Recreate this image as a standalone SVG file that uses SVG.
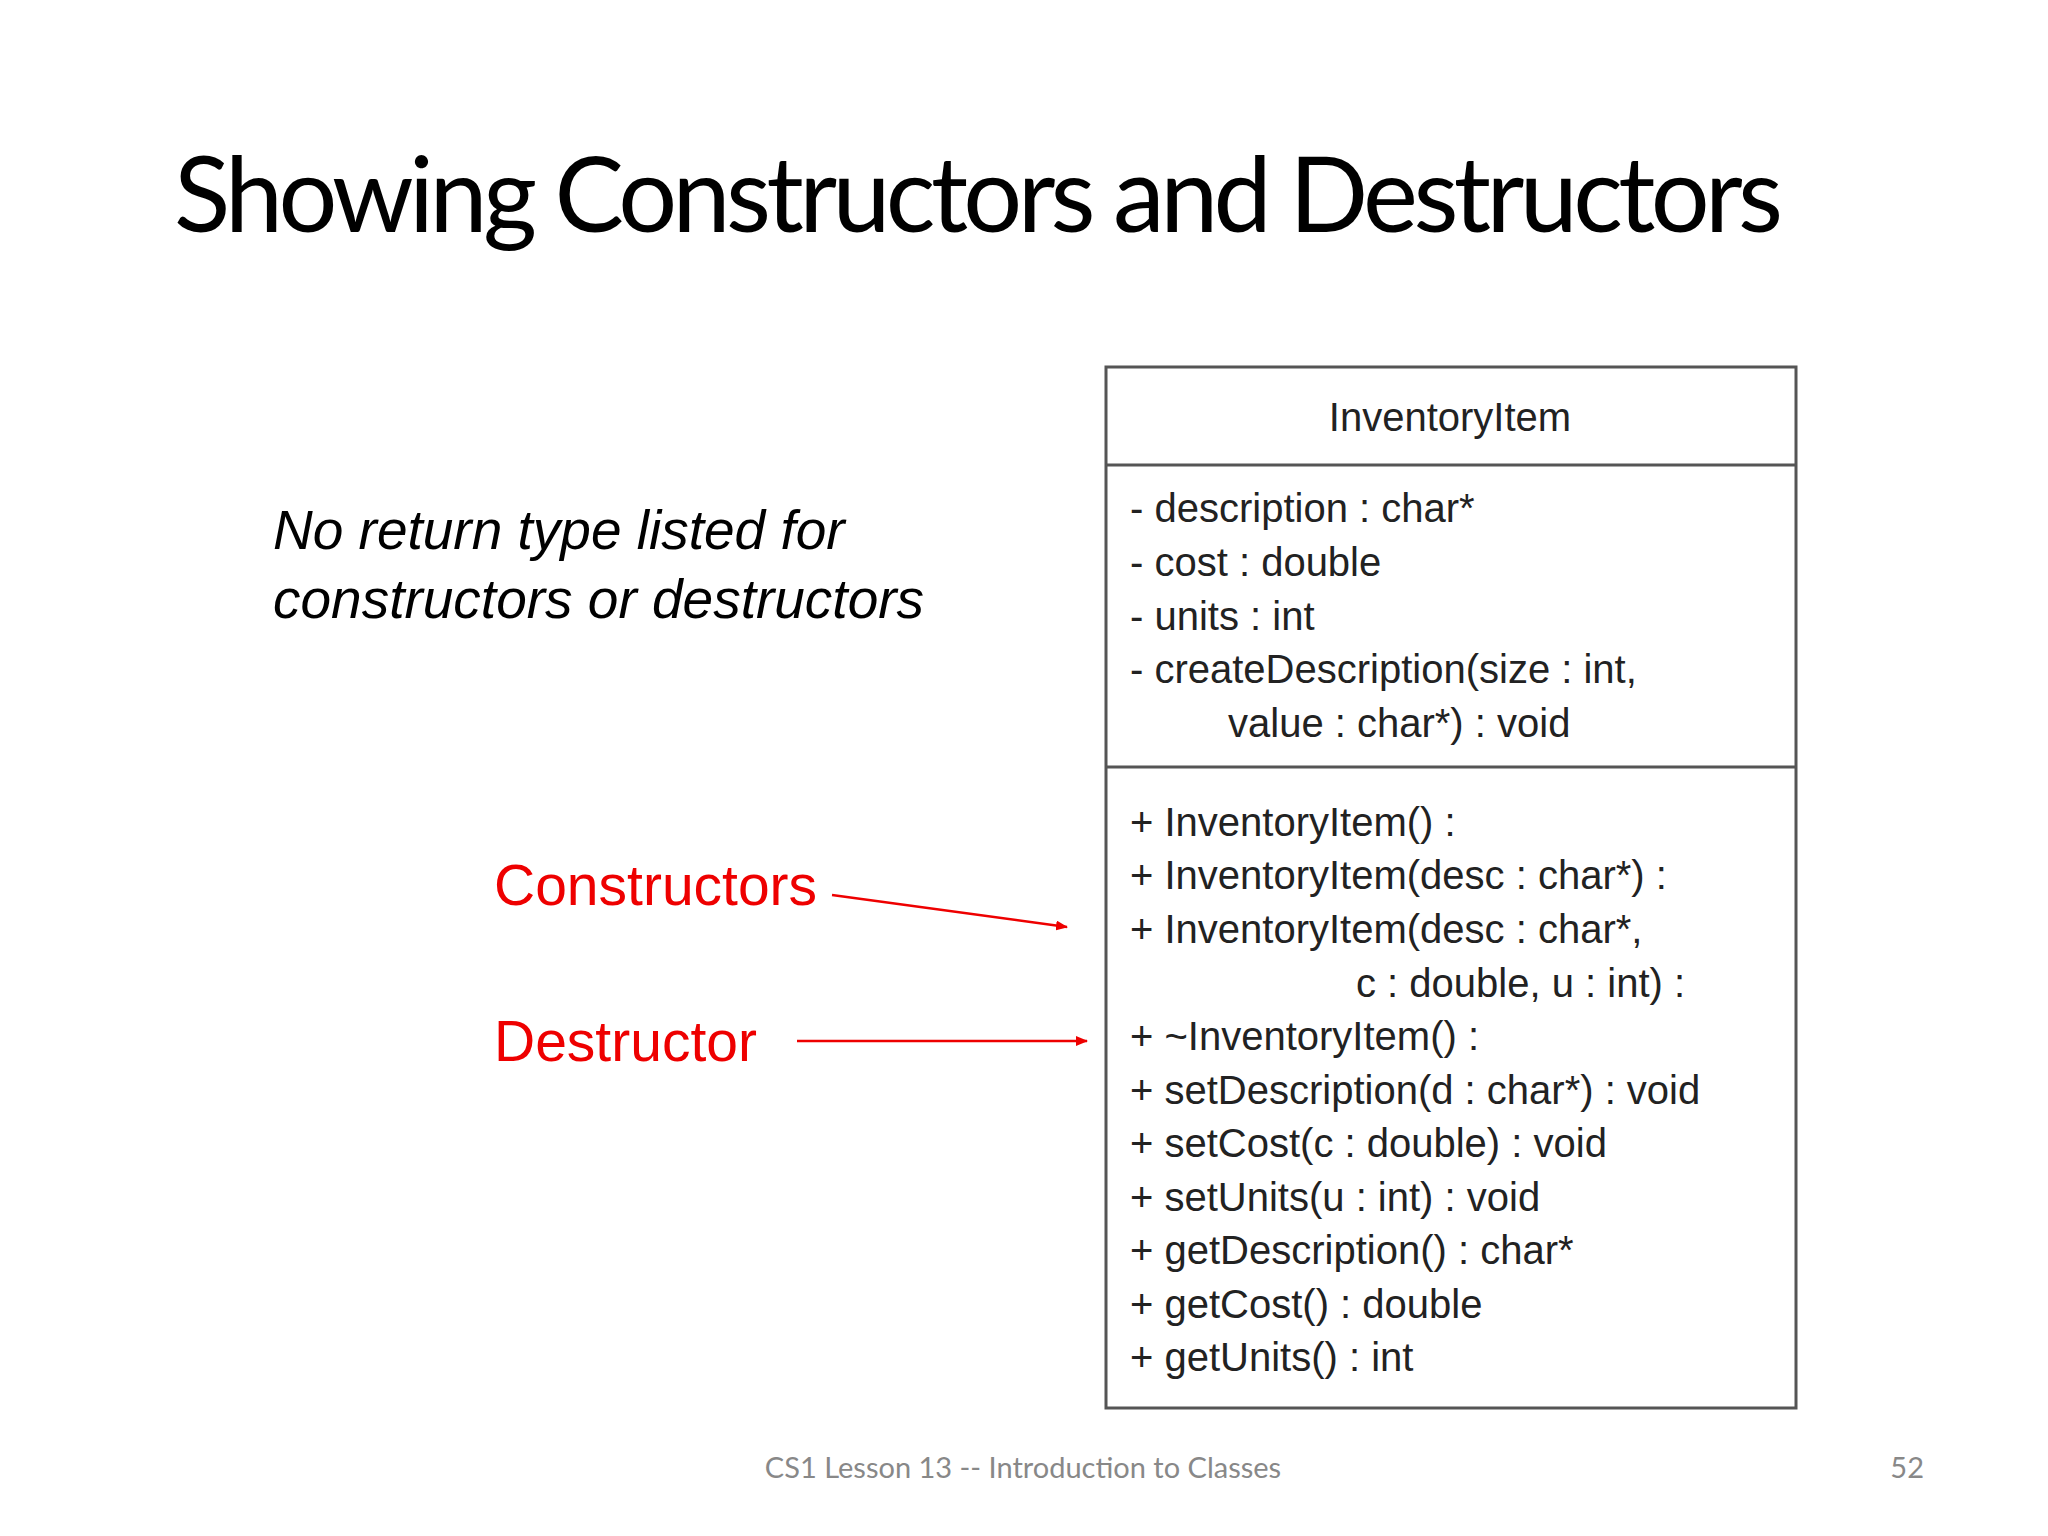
<svg xmlns="http://www.w3.org/2000/svg" width="2048" height="1536" viewBox="0 0 2048 1536">
<style>
.u{font-family:"Liberation Sans",Arial,sans-serif;font-size:40px;fill:#222}
.r{font-family:"Liberation Sans",Arial,sans-serif;font-size:57px;fill:#ee0000}
</style>
<defs><marker id="a" markerWidth="12" markerHeight="10" refX="11" refY="5" orient="auto" markerUnits="userSpaceOnUse"><path d="M0,0L12,5L0,10z" fill="#ee0000"/></marker></defs>
<rect width="2048" height="1536" fill="#fff"/>
<text x="174" y="232" font-family="Lato,'Open Sans',sans-serif" font-size="104" textLength="1609" fill="#000">Showing Constructors and Destructors</text>
<g id="note" font-family="'Liberation Sans',Arial,sans-serif" font-size="55" font-style="italic" fill="#000">
<text x="273" y="549">No return type listed for</text>
<text x="273" y="618">constructors or destructors</text>
</g>
<g id="class">
<rect x="1106" y="367" width="690" height="1041" fill="#fff" stroke="#555" stroke-width="3"/>
<line x1="1106" y1="465" x2="1796" y2="465" stroke="#555" stroke-width="3"/>
<line x1="1106" y1="767" x2="1796" y2="767" stroke="#555" stroke-width="3"/>
<text class="u" x="1450" y="431" text-anchor="middle">InventoryItem</text>
<text class="u" x="1130" y="522">- description : char*</text>
<text class="u" x="1130" y="576">- cost : double</text>
<text class="u" x="1130" y="630">- units : int</text>
<text class="u" x="1130" y="683">- createDescription(size : int,</text>
<text class="u" x="1228" y="737">value : char*) : void</text>
<text class="u" x="1130" y="836">+ InventoryItem() :</text>
<text class="u" x="1130" y="889">+ InventoryItem(desc : char*) :</text>
<text class="u" x="1130" y="943">+ InventoryItem(desc : char*,</text>
<text class="u" x="1356" y="997">c : double, u : int) :</text>
<text class="u" x="1130" y="1050">+ ~InventoryItem() :</text>
<text class="u" x="1130" y="1104">+ setDescription(d : char*) : void</text>
<text class="u" x="1130" y="1157">+ setCost(c : double) : void</text>
<text class="u" x="1130" y="1211">+ setUnits(u : int) : void</text>
<text class="u" x="1130" y="1264">+ getDescription() : char*</text>
<text class="u" x="1130" y="1318">+ getCost() : double</text>
<text class="u" x="1130" y="1371">+ getUnits() : int</text>
</g>
<g id="constructors"><text class="r" x="494" y="905">Constructors</text></g>
<g id="destructor"><text class="r" x="494" y="1061">Destructor</text></g>
<g id="connectors" stroke="#ee0000" stroke-width="2.5" fill="none">
<line x1="832" y1="895" x2="1067" y2="927" marker-end="url(#a)"/>
<line x1="797" y1="1041" x2="1087" y2="1041" marker-end="url(#a)"/>
</g>
<g font-family="Lato,'Open Sans',sans-serif" font-size="29" fill="#888">
<text x="1023" y="1478" text-anchor="middle">CS1 Lesson 13 -- Introduction to Classes</text>
<text x="1924" y="1478" text-anchor="end">52</text>
</g>
</svg>
